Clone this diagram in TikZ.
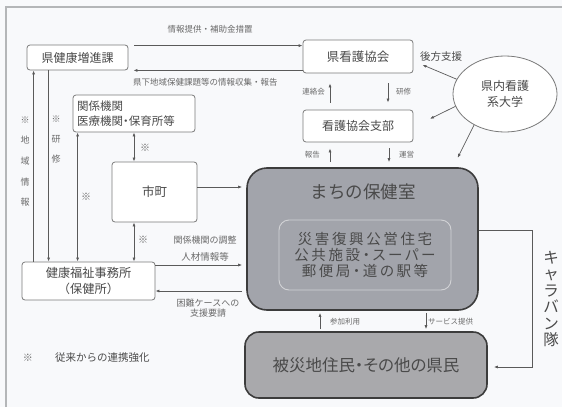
\documentclass[tikz,border=0pt]{standalone}
\usepackage{fontspec}
\newfontfamily\jp{Noto Sans CJK JP}
\newfontfamily\jpp[RawFeature=+palt]{Noto Sans CJK JP}
\newfontfamily\jpsp[LetterSpace=18,RawFeature=+palt]{Noto Sans CJK JP}
\usetikzlibrary{arrows.meta,shapes.geometric,calc}
\definecolor{bg}{HTML}{F8F9FB}
\definecolor{framec}{HTML}{B4B6B8}
\definecolor{boxc}{HTML}{7A7A7A}
\definecolor{txt}{HTML}{4A4A4A}
\definecolor{labc}{HTML}{6A6A6A}
\definecolor{arrc}{HTML}{5A5A5A}
\definecolor{grayfill}{HTML}{A2A4AB}
\definecolor{grayfill2}{HTML}{A9A9AC}
\definecolor{darkb}{HTML}{3C3C3C}
\definecolor{innerb}{HTML}{D2D3D6}
\begin{document}
\begin{tikzpicture}[x=1pt,y=-1pt,
  box/.style={draw=boxc, line width=0.8pt, rounded corners=3pt, fill=white, text=txt,
    font=\jp\fontsize{12}{14}\selectfont, inner sep=0pt},
  lab/.style={text=labc, font=\jp\fontsize{8.5}{10}\selectfont, inner sep=0pt},
  tip/.tip={Latex[length=4pt,width=3pt]},
  arr/.style={draw=arrc, line width=0.7pt, -tip},
  darr/.style={draw=arrc, line width=0.7pt, tip-tip}]
% background and frame
\fill[bg] (0,0) rectangle (562,407);
\useasboundingbox (0,0) rectangle (562,407);
\draw[framec, line width=2pt] (6,407) -- (6,7) -- (562,7);

% nodes
\node[box, minimum width=101pt, minimum height=25pt] (kenko) at (77.5,57.5) {県健康増進課};
\node[box, minimum width=110pt, minimum height=33pt, font=\jp\fontsize{12.5}{15}\selectfont] (kango) at (358,56.5) {県看護協会};
\node[box, minimum width=110pt, minimum height=32pt] (shibu) at (358,126) {看護協会支部};
\node[draw=boxc, line width=0.8pt, ellipse, fill=white, minimum width=104pt, minimum height=76pt,
  inner sep=0pt, text=txt, align=center, font=\jp\fontsize{12}{16}\selectfont] (univ) at (505,94) {県内看護\\系大学};
\node[box, minimum width=122pt, minimum height=37pt, align=left, text width=114pt,
  font=\jpp\fontsize{11.5}{15.5}\selectfont] (kankei) at (134,113.5) {関係機関\\医療機関・保育所等};
\node[box, minimum width=85pt, minimum height=60pt, font=\jp\fontsize{12.5}{14}\selectfont] (shicho) at (154.5,192) {市町};
\node[box, minimum width=133pt, minimum height=38pt, align=center,
  font=\jp\fontsize{12.2}{16.5}\selectfont] (hoken) at (88.5,281) {健康福祉事務所\\（保健所）};

\node[draw=darkb, line width=1.6pt, fill=grayfill, rounded corners=20pt,
  minimum width=231pt, minimum height=142pt, inner sep=0pt] (machi) at (362.5,239) {};
\node[text=txt, font=\jp\fontsize{17.5}{20}\selectfont, inner sep=0pt] (machit) at (363,192) {まちの保健室};
\node[draw=innerb, line width=0.9pt, rounded corners=10pt, minimum width=172pt, minimum height=70pt,
  inner sep=0pt, text=txt, align=center, font=\jpsp\fontsize{14.5}{16}\selectfont] (inner) at (365,255)
  {災害復興公営住宅\\公共施設・スーパー\\郵便局・道の駅等};

\node[draw=darkb, line width=1.6pt, fill=grayfill2, rounded corners=14pt,
  minimum width=242pt, minimum height=66pt, inner sep=0pt, text=txt,
  font=\jpp\fontsize{16.5}{19}\selectfont] (hisai) at (366,365) {被災地住民・その他の県民};

% top arrows between kenko and kango
\draw[arr] ([xshift=6pt,yshift=-1pt]kenko.north east) -- ([yshift=-1pt]kenko.north east -| kango.west);
\node[lab] (l1) at (210,29) {情報提供・補助金措置};
\draw[arr] (kenko.south east -| kango.west) -- ([xshift=5pt]kenko.south east);
\node[lab, anchor=west] (l2) at (133,82) {県下地域保健課題等の情報収集・報告};

\node[text=txt, font=\jp\fontsize{10.5}{12}\selectfont, inner sep=0pt, anchor=west] (koho) at (420,57) {後方支援};

% kango <-> shibu
\draw[arr, shorten >=10pt, shorten <=7pt] ([xshift=-28pt]shibu.north) -- ([xshift=-28pt]kango.south);
\node[lab, font=\jp\fontsize{7.5}{9}\selectfont, anchor=east] (l3) at (325,92) {連絡会};
\draw[arr, shorten <=10pt, shorten >=7pt] ([xshift=30pt]kango.south) -- ([xshift=30pt]shibu.north);
\node[lab, font=\jp\fontsize{7.5}{9}\selectfont, anchor=west] (l4) at (396,92) {研修};

% shibu <-> machi
\draw[arr, shorten <=5pt, shorten >=6pt] ([xshift=-28pt]shibu.south |- machi.north) -- ([xshift=-28pt]shibu.south);
\node[lab, font=\jp\fontsize{7.5}{9}\selectfont, anchor=east] (l5) at (320,155) {報告};
\draw[arr, shorten <=6pt, shorten >=5pt] ([xshift=31pt]shibu.south) -- ([xshift=31pt]shibu.south |- machi.north);
\node[lab, font=\jp\fontsize{7.5}{9}\selectfont, anchor=west] (l6) at (399,155) {運営};

% university arrows
\draw[arr, shorten >=9.8pt] (univ.163) -- ([yshift=-4.5pt]kango.east);
\draw[arr, shorten >=18.5pt] (univ.194) -- ([yshift=-1pt]shibu.east);
\draw[arr, shorten >=10.5pt] (univ.225) -- ([xshift=90.5pt]machi.north);

% shicho / hoken -> machi
\draw[arr, shorten >=4pt] ([yshift=5pt]shicho.east) -- ([yshift=5pt]shicho.east -| machi.west);
\draw[arr, shorten >=4pt] ([yshift=16pt]hoken.east) -- ([yshift=16pt]hoken.east -| machi.west);
\draw[arr, shorten <=4pt] ([yshift=-10pt]hoken.east -| machi.west) -- ([yshift=-10pt]hoken.east);
\node[lab, font=\jp\fontsize{9}{10}\selectfont] (l7) at (205,240) {関係機関の調整};
\node[lab, font=\jp\fontsize{9.5}{10}\selectfont] (l8) at (205,257) {人材情報等};
\node[lab, font=\jp\fontsize{9}{10}\selectfont, align=center] (l9) at (208,308) {困難ケースへの\\支援要請};

% kankei, shicho, hoken
\draw[darr] (kankei.south) -- (kankei.south |- shicho.north);
\node[lab, font=\jp\fontsize{10}{10}\selectfont] (s1) at (145,148) {※};
\draw[darr] (kankei.south |- shicho.south) -- (kankei.south |- hoken.north);
\node[lab, font=\jp\fontsize{10}{10}\selectfont] (s2) at (143,240) {※};
\draw[darr] ([xshift=5pt]kankei.south west) -- ([xshift=5pt]kankei.south west |- hoken.north);
\node[lab, font=\jp\fontsize{10}{10}\selectfont] (s3) at (86,197) {※};

% left verticals
\draw[arr] ([xshift=7pt]kenko.south west |- hoken.north) -- ([xshift=7pt]kenko.south west);
\node[lab, font=\jp\fontsize{9}{20.7}\selectfont, align=center] (v1) at (25,161.5) {※\\地\\域\\情\\報};
\draw[arr] ([xshift=22pt]kenko.south west) -- ([xshift=22pt]kenko.south west |- hoken.north);
\node[lab, font=\jp\fontsize{9}{20}\selectfont, align=center] (v2) at (56,140) {※\\研\\修};

% machi <-> hisai
\draw[arr, shorten <=2pt, shorten >=2pt] (hisai.north -| 320,0) -- (machi.south -| 320,0);
\node[lab, font=\jp\fontsize{7.5}{9}\selectfont, anchor=west] (l10) at (330,322) {参加利用};
\draw[arr, shorten <=2pt, shorten >=2pt] (machi.south -| 426,0) -- (hisai.north -| 426,0);
\node[lab, font=\jp\fontsize{7.5}{9}\selectfont, anchor=west] (l11) at (428,322) {サービス提供};

% caravan
\coordinate (cv) at (532,0);
\draw[arr, line width=0.8pt, shorten >=6pt] ([yshift=9pt]machi.east) -- ([yshift=9pt]machi.east -| cv)
  -- ([yshift=-2pt]hisai.east -| cv) -- ([yshift=-2pt]hisai.east);
\node[text=txt, font=\jp\fontsize{15.5}{16.5}\selectfont, align=center, inner sep=0pt] (car) at (551,299) {キ\\ャ\\ラ\\バ\\ン\\隊};

% footnote
\node[lab, font=\jp\fontsize{10}{10}\selectfont] (fs) at (28,358) {※};
\node[text=txt, font=\jp\fontsize{10.5}{12}\selectfont, inner sep=0pt, anchor=west] (fn) at (55,358) {従来からの連携強化};
\end{tikzpicture}
\end{document}
